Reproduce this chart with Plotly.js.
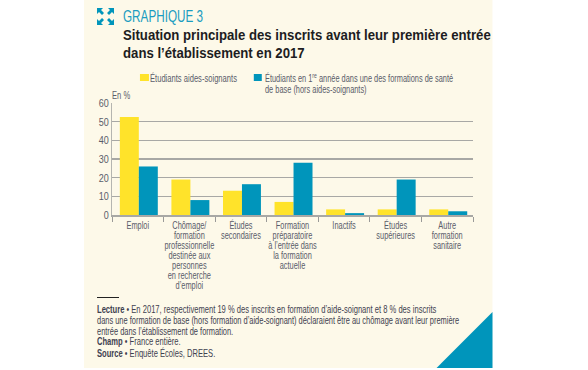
<!DOCTYPE html>
<html><head><meta charset="utf-8">
<script src="https://cdn.plot.ly/plotly-3.0.1.min.js"></script>
<style>html,body{margin:0;padding:0;background:#fff}</style></head>
<body><div id="chart" style="width:588px;height:370px"></div>
<script>
const categories = ["Emploi","Chômage/<br>formation<br>professionnelle<br>destinée aux<br>personnes<br>en recherche<br>d’emploi","Études<br>secondaires","Formation<br>préparatoire<br>à l’entrée dans<br>la formation<br>actuelle","Inactifs","Études<br>supérieures","Autre<br>formation<br>sanitaire"];
const aidesSoignants = [52.5,19,13,7,3,3,3];
const autresFormations = [26,8,16.5,28,1,19,2];
const seriesNames = ["Étudiants aides-soignants","Étudiants en 1<sup>re</sup> année dans une des formations de santé","de base (hors aides-soignants)"];
const yTicks = [0,10,20,30,40,50,60];

const W=588,H=370,L=112,R=473.5,T=103,B=215;
const FONT="'Liberation Sans',Arial,sans-serif";
const TXT="#5a5c6a", YEL="#ffe32a", BLU="#0095bb", PANEL="#fdf9e9", NOTE="#3f4150";
const SMALL=10.2;
const px=x=>(x-L)/(R-L), py=y=>(B-y)/(B-T);
const rect=(x0,y0,x1,y1,c)=>({type:"rect",xref:"paper",yref:"paper",x0:px(x0),x1:px(x1),y0:py(y0),y1:py(y1),fillcolor:c,line:{width:0},layer:"below"});
const poly=(pts,c)=>({type:"path",xref:"paper",yref:"paper",path:"M"+pts.map(p=>px(p[0])+" "+py(p[1])).join("L")+"Z",fillcolor:c,line:{width:0},layer:"below"});
const text=(x,y,t,size,color)=>({xref:"paper",yref:"paper",x:px(x-1.5),y:py(y),text:t,showarrow:false,xanchor:"left",yanchor:"middle",align:"left",font:{family:FONT,size:size,color:color},borderpad:0});

const shapes=[
 rect(84,0,493,368,PANEL),
 poly([[437,368],[493,312],[493,368]],BLU),
 rect(97,297,119,298,"#222"),
 rect(140,74,149,81,YEL),
 rect(254,74,262,81,BLU),
 poly([[97,8],[103,8],[101,10],[104,13],[102,15],[99,12],[97,14]],BLU),
 poly([[114,8],[108,8],[110,10],[107,13],[109,15],[112,12],[114,14]],BLU),
 poly([[97,25],[103,25],[101,23],[104,20],[102,18],[99,21],[97,19]],BLU),
 poly([[114,25],[108,25],[110,23],[107,20],[109,18],[112,21],[114,19]],BLU)
];
const annotationScale=[.69,.88,.88,.745,.726,.726,.745,.745,.731,.731,.745,.745];
const annotations=[
 text(124,16.5,"GRAPHIQUE 3",17,"#1a9cc0"),
 text(124,34,"<b>Situation principale des inscrits avant leur première entrée</b>",15,"#1d1d22"),
 text(124,52,"<b>dans l’établissement en 2017</b>",15,"#1d1d22"),
 text(151,77.5,seriesNames[0],SMALL,TXT),
 text(266,77.5,seriesNames[1],SMALL,TXT),
 text(266,89.5,seriesNames[2],SMALL,TXT),
 text(112,95.5,"En %",SMALL,TXT),
 text(97,309,"<b>Lecture</b> • En 2017, respectivement 19 % des inscrits en formation d’aide-soignant et 8 % des inscrits",SMALL,NOTE),
 text(97,320,"dans une formation de base (hors formation d’aide-soignant) déclaraient être au chômage avant leur première",SMALL,NOTE),
 text(97,331,"entrée dans l’établissement de formation.",SMALL,NOTE),
 text(97,341.5,"<b>Champ</b> • France entière.",SMALL,NOTE),
 text(97,352.5,"<b>Source</b> • Enquête Écoles, DREES.",SMALL,NOTE)
];
const traces=[
 {type:"bar",name:"Étudiants aides-soignants",x:categories,y:aidesSoignants,width:.368,offset:-.348,marker:{color:YEL,line:{width:0}}},
 {type:"bar",name:"Étudiants en 1re année (hors aides-soignants)",x:categories,y:autresFormations,width:.368,offset:.02,marker:{color:BLU,line:{width:0}}}
];
function squeeze(node,sx){
  const x=parseFloat(node.getAttribute("x"))||0;
  const prev=node.getAttribute("transform")||"";
  node.setAttribute("transform",prev+" translate("+x+",0) scale("+sx+",1) translate("+(-x)+",0)");
}
Plotly.newPlot("chart",traces,{
 width:W,height:H,showlegend:false,barmode:"overlay",
 paper_bgcolor:"#fff",plot_bgcolor:"rgba(0,0,0,0)",
 margin:{l:L,r:W-R,t:T,b:H-B,pad:0},
 font:{family:FONT,color:TXT,size:10},
 xaxis:{type:"category",tickson:"boundaries",ticks:"outside",ticklen:5,tickwidth:1,tickcolor:"#9a9a98",tickangle:0,
  showgrid:false,showline:true,linecolor:"#a8a8a5",linewidth:1.5,tickfont:{family:FONT,size:SMALL,color:TXT},automargin:false},
 yaxis:{range:[0,60],tickvals:yTicks,ticktext:yTicks.map(String),ticks:"",showline:true,linecolor:"#b5b5b0",linewidth:1,
  gridcolor:"#a8a8a5",gridwidth:1.5,zeroline:false,tickfont:{family:FONT,size:11,color:TXT},automargin:false},
 shapes:shapes,annotations:annotations
},{displayModeBar:false,staticPlot:true}).then(gd=>{
  gd.querySelectorAll(".annotation-text").forEach((n,i)=>squeeze(n,annotationScale[i]));
  gd.querySelectorAll(".xtick text").forEach(n=>{
    squeeze(n,.726);
    n.querySelectorAll("tspan.line").forEach((t,i)=>t.setAttribute("dy",(i*10)+"px"));
  });
  gd.querySelectorAll(".ytick text").forEach(n=>squeeze(n,.82));
});
</script></body></html>
